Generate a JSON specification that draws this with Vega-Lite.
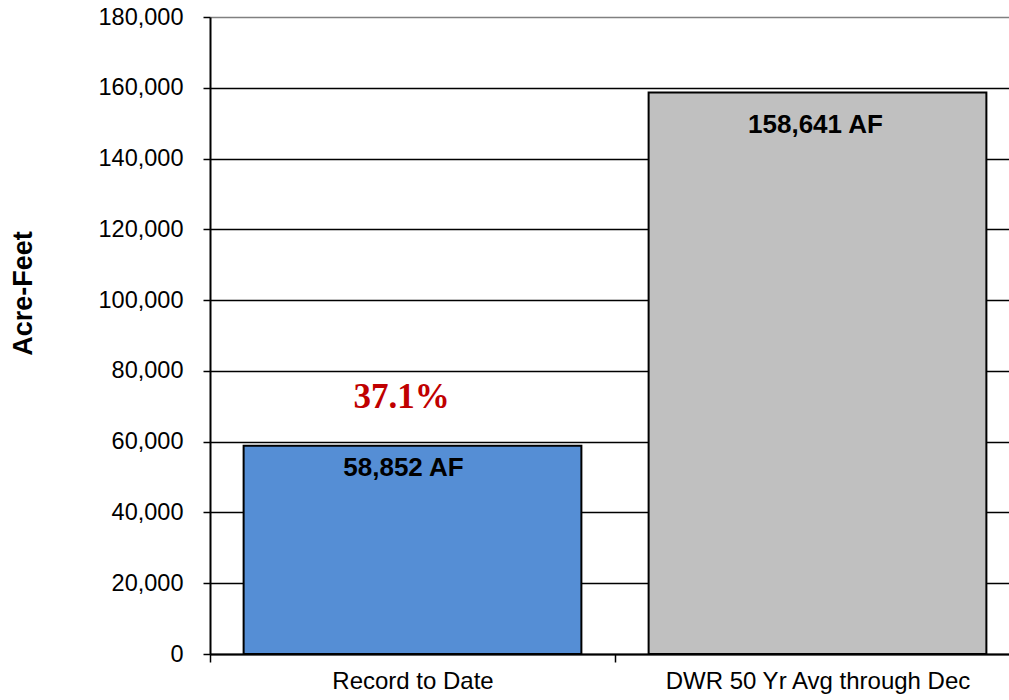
{
  "$schema": "https://vega.github.io/schema/vega-lite/v6.json",
  "width": 799,
  "height": 637,
  "autosize": {"type": "none"},
  "padding": {"left": 210, "top": 17, "right": 0, "bottom": 46},
  "background": "white",
  "config": {"view": {"stroke": null}, "font": "Liberation Sans"},
  "data": {
    "values": [
      {"category": "Record to Date", "value": 58852, "label": "58,852 AF", "pct": "37.1%"},
      {"category": "DWR 50 Yr Avg through Dec", "value": 158641, "label": "158,641 AF", "pct": null}
    ]
  },
  "encoding": {
    "x": {
      "field": "category",
      "type": "nominal",
      "sort": null,
      "scale": {"range": [0, 810], "paddingInner": 0, "paddingOuter": 0},
      "axis": {
        "title": null,
        "labelAngle": 0,
        "labelFont": "Liberation Sans",
        "labelFontSize": 24,
        "labelColor": "black",
        "labelPadding": 7,
        "labelLimit": 600,
        "tickBand": "extent",
        "tickSize": 8,
        "tickColor": "black",
        "tickWidth": 1.5,
        "domainColor": "black",
        "domainWidth": 2
      }
    },
    "y": {
      "field": "value",
      "type": "quantitative",
      "scale": {"domain": [0, 180000], "nice": false},
      "axis": {
        "values": [0, 20000, 40000, 60000, 80000, 100000, 120000, 140000, 160000, 180000],
        "format": ",.0f",
        "labelFont": "Liberation Sans",
        "labelFontSize": 23.5,
        "labelColor": "black",
        "labelPadding": 20,
        "tickSize": 7,
        "tickColor": "black",
        "tickWidth": 1.5,
        "domainColor": "black",
        "domainWidth": 2,
        "grid": true,
        "gridColor": {"condition": {"test": "datum.value === 180000", "value": "#808080"}, "value": "black"},
        "gridWidth": 1.5,
        "title": "Acre-Feet",
        "titleFont": "Liberation Sans",
        "titleFontSize": 27,
        "titleFontWeight": "bold",
        "titleColor": "black",
        "titleAngle": 270,
        "titleX": -187,
        "titleY": 276,
        "titleAlign": "center",
        "titleBaseline": "middle"
      }
    }
  },
  "layer": [
    {
      "mark": {"type": "bar", "width": {"band": 0.834}, "stroke": "black", "strokeWidth": 2},
      "encoding": {
        "color": {
          "field": "category",
          "type": "nominal",
          "scale": {"domain": ["Record to Date", "DWR 50 Yr Avg through Dec"], "range": ["#558ED5", "#C0C0C0"]},
          "legend": null
        }
      }
    },
    {
      "transform": [{"filter": "datum.category === 'Record to Date'"}],
      "mark": {"type": "text", "font": "Liberation Sans", "fontWeight": "bold", "fontSize": 26, "color": "black", "baseline": "middle", "dx": -9, "dy": 22},
      "encoding": {"text": {"field": "label"}}
    },
    {
      "transform": [{"filter": "datum.category !== 'Record to Date'"}],
      "mark": {"type": "text", "font": "Liberation Sans", "fontWeight": "bold", "fontSize": 26, "color": "black", "baseline": "middle", "dx": -2, "dy": 32},
      "encoding": {"text": {"field": "label"}}
    },
    {
      "transform": [{"filter": "datum.pct != null"}],
      "mark": {"type": "text", "font": "Liberation Serif", "fontWeight": "bold", "fontSize": 35, "color": "#C00000", "baseline": "alphabetic", "dx": -11, "dy": -38},
      "encoding": {"text": {"field": "pct"}}
    }
  ]
}
